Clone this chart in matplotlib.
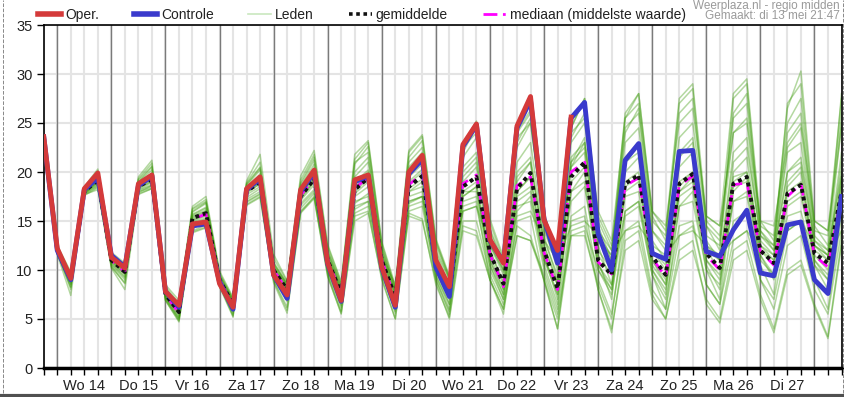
import numpy as np
import matplotlib.pyplot as plt
from matplotlib.lines import Line2D

plt.rcParams['font.family'] = ['Liberation Sans', 'DejaVu Sans']

# 6-hourly steps, first step di 13 mei 18:00
days = ['Wo 14', 'Do 15', 'Vr 16', 'Za 17', 'Zo 18', 'Ma 19', 'Di 20',
        'Wo 21', 'Do 22', 'Vr 23', 'Za 24', 'Zo 25', 'Ma 26', 'Di 27']

oper = [23.6, 12.2, 9.15, 18.3, 19.9, 11.3, 10.2, 18.8, 19.7, 7.8, 6.4, 14.7, 14.9, 8.6, 6.2,
        18.3, 19.5, 9.5, 7.45, 18.2, 20.2, 10.7, 6.9, 19.2, 19.7, 10.3, 6.4, 20.0, 21.7, 11.0,
        8.3, 22.8, 24.9, 13.1, 10.7, 24.7, 27.7, 15.1, 12.0, 25.6]

controle = [23.6, 12.0, 9.0, 18.2, 19.4, 11.5, 10.3, 18.6, 19.6, 7.8, 6.2, 14.5, 14.7, 8.8, 6.0,
            18.2, 19.3, 9.5, 7.1, 18.0, 20.0, 10.6, 6.8, 19.0, 19.6, 10.2, 6.2, 19.8, 21.3, 10.3,
            7.3, 22.6, 24.8, 13.0, 10.8, 24.5, 27.3, 15.2, 10.7, 25.5, 27.1, 13.7, 10.0, 21.2, 22.9,
            11.7, 11.1, 22.1, 22.2, 11.9, 11.4, 14.1, 16.1, 9.7, 9.4, 14.6, 14.9, 9.0, 7.6, 17.5]

gemiddelde = [23.6, 12.0, 9.0, 18.0, 19.2, 11.0, 9.8, 18.5, 19.3, 7.5, 5.7, 15.3, 15.8, 9.0, 6.5,
              18.0, 19.0, 10.0, 8.0, 17.5, 19.3, 11.0, 7.6, 18.2, 19.4, 11.0, 7.2, 18.5, 19.6, 10.5,
              7.6, 18.5, 19.5, 11.7, 8.6, 18.3, 19.9, 12.0, 8.1, 19.5, 21.0, 11.0, 9.5, 18.8, 19.7,
              11.4, 9.5, 18.8, 19.8, 11.7, 10.2, 18.8, 19.5, 12.0, 10.7, 17.8, 18.7, 11.7, 10.7, 18.0]

mediaan = [23.6, 12.0, 9.0, 18.1, 19.3, 11.0, 9.8, 18.6, 19.4, 7.5, 5.6, 15.2, 15.7, 9.0, 6.4,
           18.1, 19.1, 10.0, 7.9, 17.6, 19.4, 11.1, 7.5, 18.3, 19.5, 11.0, 7.0, 18.7, 19.8, 10.4,
           7.4, 18.8, 19.7, 11.6, 8.3, 18.6, 19.5, 11.8, 8.0, 20.0, 21.0, 10.8, 9.6, 18.6, 19.4,
           11.2, 9.3, 18.6, 19.6, 11.5, 10.0, 18.7, 18.9, 11.9, 10.5, 17.5, 18.8, 11.5, 10.3, 17.6]

leden = [
    [23.6, 12.4, 9.6, 18.4, 20.1, 11.6, 10.5, 19.2, 20.6, 8.2, 6.3, 16.2, 17.0, 9.6, 6.9, 18.8, 20.5, 10.8, 8.6, 18.9,
     21.5, 12.1, 8.4, 20.8, 22.6, 12.4, 8.0, 21.5, 23.2, 12.8, 9.2, 22.0, 24.6, 14.2, 10.8, 22.5, 25.0, 14.6, 10.0, 21.0,
     23.5, 12.5, 8.5, 16.0, 17.0, 9.5, 7.0, 14.5, 15.0, 8.5, 6.5, 13.0, 14.0, 9.0, 6.0, 12.5, 13.5, 8.0, 5.5, 14.0],
    [23.5, 11.6, 7.4, 17.7, 18.2, 10.2, 8.0, 17.7, 18.3, 6.9, 4.7, 13.8, 14.3, 8.3, 5.2, 16.6, 17.4, 8.7, 5.6, 15.8,
     17.3, 9.3, 5.6, 15.0, 15.8, 9.2, 5.0, 15.8, 15.2, 8.5, 5.2, 14.5, 14.0, 9.0, 6.0, 16.0, 17.5, 11.0, 8.5, 20.5,
     23.0, 14.0, 12.0, 24.0, 26.5, 15.0, 13.5, 26.0, 27.5, 15.0, 13.5, 25.5, 27.0, 14.0, 12.5, 24.0, 26.0, 13.5, 12.0, 25.0],
    [23.6, 12.1, 9.2, 18.1, 19.5, 11.2, 10.0, 18.6, 19.8, 7.7, 5.9, 15.6, 16.3, 9.1, 6.7, 18.2, 19.6, 10.2, 8.3, 17.9,
     19.8, 11.3, 7.9, 19.0, 20.2, 11.5, 7.6, 19.5, 20.8, 11.2, 8.0, 20.0, 21.5, 12.5, 9.5, 21.0, 23.0, 13.5, 9.0, 23.0,
     25.0, 14.5, 11.0, 25.5, 28.0, 16.0, 14.0, 27.5, 29.0, 15.5, 14.5, 28.0, 29.5, 15.0, 13.0, 26.5, 30.3, 15.0, 14.0, 27.5],
    [23.6, 11.8, 8.6, 17.9, 18.8, 10.7, 9.3, 18.2, 18.7, 7.2, 5.2, 14.7, 15.2, 8.8, 6.0, 17.4, 18.3, 9.4, 7.2, 16.8,
     18.2, 10.2, 6.6, 16.5, 17.0, 10.0, 6.2, 16.8, 17.5, 9.4, 6.5, 16.0, 16.5, 10.0, 7.0, 14.5, 13.5, 9.0, 4.0, 13.5,
     14.0, 8.0, 4.0, 12.0, 13.0, 7.0, 5.0, 11.0, 12.0, 7.0, 5.0, 12.0, 13.0, 7.5, 4.0, 10.0, 11.0, 6.5, 3.2, 13.0],
    [23.7, 12.5, 9.8, 18.5, 20.3, 11.8, 10.7, 19.5, 21.2, 8.5, 6.9, 16.5, 17.5, 9.9, 7.2, 19.1, 21.8, 11.6, 8.9, 19.6,
     22.2, 12.6, 8.8, 21.8, 23.2, 12.9, 8.4, 22.2, 23.8, 13.2, 9.4, 22.8, 25.2, 15.2, 11.3, 24.2, 26.3, 15.8, 11.5, 24.5,
     27.5, 15.5, 12.5, 21.0, 22.0, 12.0, 10.0, 19.0, 20.0, 12.0, 11.0, 19.5, 20.0, 12.5, 11.0, 18.0, 19.0, 12.0, 11.0, 18.5],
    [23.6, 12.0, 8.9, 18.0, 19.0, 10.9, 9.6, 18.4, 19.0, 7.4, 5.5, 15.0, 15.5, 8.9, 6.4, 17.9, 18.8, 9.8, 7.8, 17.2,
     19.0, 10.8, 7.3, 17.8, 19.0, 10.6, 6.8, 18.0, 19.0, 10.0, 7.0, 17.5, 18.5, 11.0, 7.5, 18.0, 19.5, 11.5, 7.0, 18.0,
     19.0, 10.0, 8.0, 18.0, 19.0, 11.0, 9.0, 18.0, 19.0, 11.0, 9.5, 18.5, 19.0, 12.0, 10.5, 17.0, 18.0, 11.5, 10.0, 17.5],
    [23.5, 11.9, 8.8, 17.8, 19.0, 11.0, 9.9, 18.7, 19.5, 7.6, 5.8, 15.4, 16.0, 9.2, 6.8, 18.3, 19.2, 10.3, 8.5, 17.7,
     19.5, 11.5, 8.2, 18.5, 19.8, 11.4, 7.5, 18.0, 18.5, 10.0, 6.5, 17.0, 17.5, 10.5, 7.5, 16.5, 17.0, 10.0, 6.0, 15.5,
     16.5, 9.0, 5.5, 14.0, 15.0, 8.0, 6.0, 13.5, 14.5, 8.5, 6.5, 15.0, 16.0, 9.0, 7.0, 14.0, 15.0, 9.0, 6.0, 15.5],
    [23.6, 12.3, 9.4, 18.3, 19.8, 11.4, 10.3, 19.0, 20.2, 7.9, 6.1, 15.9, 16.8, 9.4, 7.0, 18.6, 20.2, 10.6, 8.5, 18.5,
     20.8, 11.8, 8.2, 20.0, 21.5, 12.0, 7.8, 20.5, 22.0, 11.8, 8.5, 21.5, 23.5, 13.5, 10.0, 23.0, 25.5, 14.0, 10.5, 23.5,
     26.0, 13.5, 11.0, 24.5, 26.0, 14.0, 12.0, 22.0, 23.5, 13.5, 12.5, 24.0, 25.0, 13.5, 12.5, 22.5, 24.5, 13.0, 11.5, 22.0],
    [23.6, 11.7, 8.3, 17.7, 18.5, 10.5, 9.0, 18.0, 18.4, 7.0, 5.0, 14.3, 14.8, 8.6, 5.6, 17.0, 17.8, 9.2, 6.8, 16.3,
     17.8, 9.8, 6.2, 15.8, 16.5, 9.5, 5.8, 16.0, 16.5, 9.0, 5.8, 15.0, 15.0, 9.5, 6.5, 13.5, 13.0, 9.5, 5.5, 14.0,
     14.5, 10.0, 7.5, 16.0, 17.0, 10.5, 8.5, 18.0, 19.5, 12.0, 10.0, 19.0, 20.0, 12.5, 11.5, 20.0, 21.5, 13.0, 12.0, 20.0],
    [23.6, 12.0, 9.1, 18.0, 19.3, 11.1, 9.8, 18.5, 19.4, 7.5, 5.7, 15.3, 15.9, 9.0, 6.5, 18.0, 19.1, 10.1, 8.1, 17.6,
     19.4, 11.1, 7.7, 18.4, 19.6, 11.2, 7.4, 18.8, 20.0, 10.8, 7.9, 19.0, 20.5, 12.0, 8.5, 19.0, 21.0, 12.5, 8.5, 20.5,
     22.0, 11.5, 9.5, 20.0, 21.5, 12.0, 10.5, 20.5, 22.0, 12.5, 11.0, 21.0, 22.5, 13.5, 12.0, 20.0, 21.0, 12.5, 11.5, 19.5],
    [23.6, 11.9, 8.0, 17.8, 18.6, 10.4, 8.6, 17.9, 18.6, 7.1, 4.9, 14.0, 14.6, 8.5, 5.4, 16.9, 17.7, 9.0, 6.2, 16.0,
     17.5, 9.6, 5.8, 16.2, 17.0, 9.8, 5.6, 16.5, 17.0, 9.2, 5.5, 16.5, 17.0, 9.0, 5.5, 15.0, 15.5, 8.8, 4.0, 15.0,
     15.5, 8.0, 3.6, 13.0, 14.0, 7.5, 5.0, 12.0, 13.0, 6.5, 4.6, 11.0, 12.0, 7.0, 3.6, 9.5, 10.5, 6.2, 3.0, 12.5],
    [23.6, 12.2, 9.3, 18.2, 19.6, 11.3, 10.1, 18.8, 19.9, 7.8, 6.0, 15.7, 16.4, 9.3, 6.7, 18.4, 19.8, 10.5, 8.4, 18.3,
     20.4, 11.6, 8.0, 19.5, 21.0, 11.8, 7.8, 20.0, 21.0, 11.5, 8.2, 20.5, 22.0, 12.8, 9.8, 20.0, 21.5, 13.0, 9.5, 21.5,
     23.0, 13.0, 11.5, 23.0, 24.5, 14.0, 12.5, 23.5, 25.0, 14.5, 13.0, 26.0, 28.0, 14.5, 13.5, 25.0, 27.5, 14.0, 13.5, 26.0],
    [23.6, 11.9, 8.7, 17.9, 18.9, 10.8, 9.5, 18.3, 18.9, 7.3, 5.4, 14.9, 15.3, 8.9, 6.2, 17.7, 18.5, 9.7, 7.6, 17.1,
     18.7, 10.6, 7.1, 17.5, 18.5, 10.4, 6.6, 17.5, 18.0, 10.0, 7.2, 18.0, 18.0, 11.0, 8.0, 17.5, 18.5, 11.0, 7.5, 17.0,
     18.5, 10.5, 8.5, 17.5, 18.0, 10.0, 8.0, 16.5, 17.0, 10.0, 8.5, 17.0, 17.5, 11.0, 9.5, 15.5, 16.0, 10.5, 9.0, 16.0],
    [23.6, 12.1, 9.0, 18.1, 19.1, 11.0, 9.9, 18.5, 19.2, 7.5, 5.8, 15.2, 15.6, 9.0, 6.6, 18.1, 18.9, 10.0, 8.0, 17.4,
     19.0, 11.2, 7.8, 17.0, 17.5, 11.5, 8.5, 17.0, 17.5, 12.0, 9.0, 16.0, 16.5, 12.5, 10.0, 15.5, 16.0, 13.0, 11.0, 14.5,
     15.0, 13.5, 11.5, 14.0, 14.5, 12.5, 11.5, 13.5, 14.0, 12.5, 11.5, 13.0, 14.0, 12.0, 11.0, 14.0, 15.0, 12.5, 11.5, 14.0],
    [23.6, 12.2, 9.5, 18.3, 19.7, 11.5, 10.4, 19.0, 20.5, 8.0, 6.2, 16.0, 16.9, 9.5, 6.9, 18.7, 20.4, 10.7, 8.6, 18.7,
     21.2, 11.9, 8.5, 21.0, 22.0, 12.2, 8.0, 21.0, 22.5, 12.5, 9.0, 22.5, 24.0, 14.0, 10.5, 23.5, 25.0, 14.5, 10.5, 24.0,
     25.5, 15.0, 12.0, 26.0, 28.0, 15.5, 13.0, 27.0, 28.5, 14.5, 12.0, 27.5, 29.0, 14.0, 12.0, 27.0, 29.0, 14.5, 12.5, 28.0],
    [23.6, 11.8, 8.5, 17.8, 18.7, 10.6, 9.2, 18.1, 18.6, 7.2, 5.1, 14.6, 15.0, 8.7, 5.8, 17.2, 18.0, 9.3, 7.0, 16.6,
     18.0, 10.0, 6.4, 16.8, 17.8, 9.9, 6.0, 17.0, 17.5, 9.6, 6.0, 17.5, 18.5, 10.5, 7.0, 17.0, 18.0, 10.5, 6.5, 18.0,
     20.0, 11.0, 7.0, 19.0, 20.0, 10.0, 7.5, 18.5, 20.0, 10.5, 8.0, 20.0, 21.5, 11.5, 9.0, 19.0, 20.5, 11.0, 9.0, 19.0],
    [23.6, 12.1, 9.2, 18.1, 19.4, 11.2, 10.1, 18.7, 19.7, 7.7, 5.9, 15.5, 16.1, 9.1, 6.6, 18.1, 19.4, 10.2, 8.2, 17.8,
     19.6, 11.2, 7.8, 18.8, 20.0, 11.3, 7.3, 19.0, 20.3, 11.0, 7.8, 19.5, 21.0, 12.0, 8.8, 19.5, 21.0, 12.5, 8.8, 21.0,
     22.5, 12.0, 10.0, 21.5, 23.0, 13.0, 11.0, 21.5, 23.0, 13.0, 11.0, 22.0, 23.5, 13.0, 11.5, 22.0, 23.0, 12.5, 11.0, 21.0],
    [23.6, 12.0, 8.9, 17.9, 19.1, 10.9, 9.7, 18.4, 19.1, 7.4, 5.6, 15.1, 15.6, 8.9, 6.4, 17.9, 18.8, 9.9, 7.9, 17.4,
     19.2, 10.9, 7.5, 18.0, 19.3, 10.8, 7.0, 18.3, 19.3, 10.5, 7.5, 18.0, 19.0, 11.5, 8.0, 18.0, 19.5, 11.5, 7.5, 19.0,
     20.5, 10.5, 8.0, 18.5, 19.5, 11.0, 8.5, 17.5, 18.5, 11.0, 9.0, 17.0, 18.0, 11.5, 9.5, 16.5, 17.5, 11.0, 9.5, 17.0],
    [23.6, 11.7, 8.2, 17.6, 18.4, 10.3, 8.7, 17.8, 18.3, 6.9, 4.8, 13.9, 14.4, 8.4, 5.3, 16.7, 17.5, 8.9, 5.9, 15.9,
     17.4, 9.4, 5.5, 15.5, 16.0, 9.0, 5.0, 15.5, 15.0, 8.8, 5.0, 14.0, 13.5, 9.0, 6.0, 13.5, 13.0, 9.0, 5.0, 13.5,
     13.5, 8.5, 5.0, 15.5, 16.5, 9.5, 6.0, 16.5, 18.0, 10.0, 7.0, 18.0, 19.5, 10.5, 7.5, 18.5, 20.0, 10.5, 8.0, 19.5],
    [23.6, 12.3, 9.6, 18.4, 20.0, 11.6, 10.6, 19.3, 20.9, 8.3, 6.6, 16.3, 17.2, 9.7, 7.1, 18.9, 21.0, 11.2, 8.8, 19.2,
     21.8, 12.4, 8.7, 21.3, 23.0, 12.7, 8.2, 22.0, 23.6, 13.0, 9.2, 22.5, 24.8, 14.8, 11.0, 24.0, 26.0, 15.5, 11.8, 24.5,
     27.5, 16.0, 13.0, 25.5, 27.0, 16.0, 14.5, 25.0, 26.5, 15.5, 14.5, 24.0, 25.5, 15.0, 14.5, 23.0, 25.0, 15.0, 14.0, 24.5],
]

c_oper = '#d43a3a'
c_ctrl = '#3a3acc'
c_leden = '#3a9a08'

fig = plt.figure(figsize=(8.44, 3.97), dpi=100)
ax = fig.add_axes([43.75/844, 29/397, (841.5-43.75)/844, 343/397])

t = np.arange(len(controle))

# members first, then the summary lines on top
for m in leden:
    ax.plot(t, m, color=c_leden, alpha=0.38, lw=1.1, zorder=2)
ax.plot(t, mediaan, color='#ff00ff', lw=2, dashes=(4, 3), zorder=3)
ax.plot(t, gemiddelde, color='#111111', lw=2.8, linestyle=(0, (1, 1)), zorder=4)
ax.plot(t, controle, color=c_ctrl, lw=3.5, zorder=5)
ax.plot(t[:len(oper)], oper, color=c_oper, lw=3.5, zorder=6)

ax.set_xlim(0, 58.87)
ax.set_ylim(0, 35)

# x ticks every 6 h, day label at noon
labels = [''] * len(t)
for k, d in enumerate(days):
    labels[3 + 4*k] = d
ax.set_xticks(t)
ax.set_xticklabels(labels)
ax.set_yticks(range(0, 36, 5))
ax.grid(color='#e4e4e4', lw=1.5, zorder=0)
ax.set_axisbelow(True)
for x in t[1::4]:
    ax.axvline(x, color='#7a7a7a', lw=1, zorder=1)

ax.tick_params(direction='out', length=5, width=1, color='black',
               labelsize=10.5, labelcolor='#222222', pad=3)
for s in ['left', 'top', 'right']:
    ax.spines[s].set_linewidth(1.2)
ax.spines['bottom'].set_linewidth(2.5)

handles = [Line2D([], [], color=c_oper, lw=4),
           Line2D([], [], color=c_ctrl, lw=4),
           Line2D([], [], color='#c9e8bf', lw=1.2),
           Line2D([], [], color='#111111', lw=2.6, linestyle=(0, (1, 1))),
           Line2D([], [], color='#ff00ff', lw=2, dashes=(5, 2, 1, 2))]
fig.legend(handles, ['Oper.', 'Controle', 'Leden', 'gemiddelde', 'mediaan (middelste waarde)'],
           loc='center left', bbox_to_anchor=(38/844, 1 - 15/397), ncol=5, frameon=False,
           fontsize=10, handlelength=1.65, handletextpad=0.3, columnspacing=2.5,
           borderaxespad=0, borderpad=0, labelcolor='#222222')

fig.text(840/844, 1 - 5.5/397, 'Weerplaza.nl - regio midden', ha='right', va='center',
         fontsize=8.5, color='#9a9a9a')
fig.text(840/844, 1 - 16/397, 'Gemaakt: di 13 mei 21:47', ha='right', va='center',
         fontsize=8.5, color='#9a9a9a')

# page frame
fig.add_artist(Line2D([3/844, 3/844], [4/397, 1], transform=fig.transFigure,
                      ls='--', lw=0.7, color='#888888'))
fig.add_artist(Line2D([842.8/844, 842.8/844], [4/397, 1], transform=fig.transFigure,
                      ls='--', lw=0.7, color='#888888'))
fig.add_artist(Line2D([0, 1], [1.5/397, 1.5/397], transform=fig.transFigure,
                      lw=3, color='#505050'))

fig.savefig('out.png', dpi=100)
